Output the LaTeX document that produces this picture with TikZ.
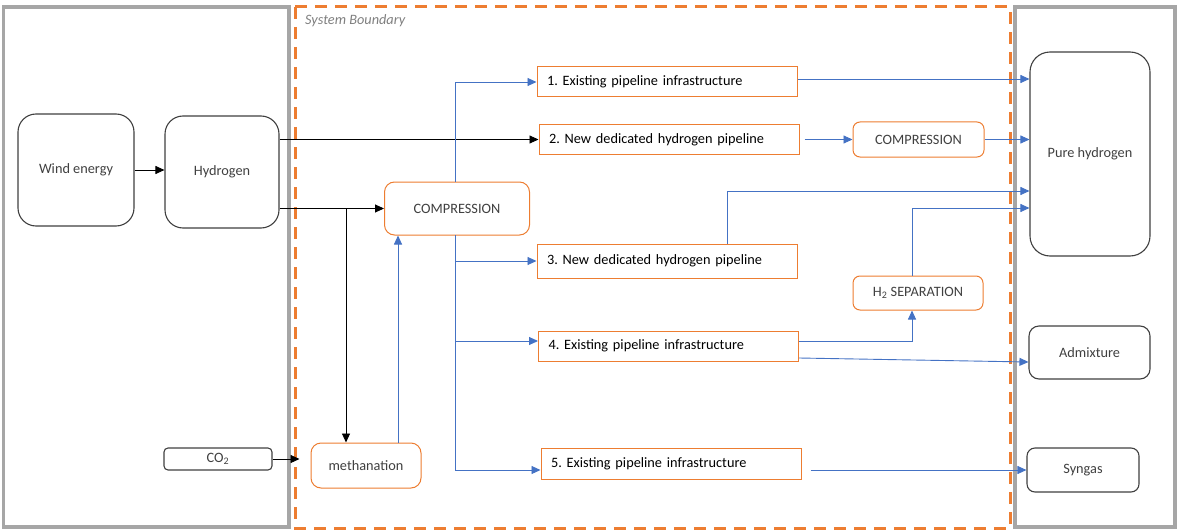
\documentclass[tikz,border=0pt]{standalone}
\usepackage{fontspec}
\setmainfont{Carlito}
\usetikzlibrary{arrows.meta}
\definecolor{orng}{HTML}{ED7D31}
\definecolor{blu}{HTML}{4472C4}
\definecolor{bnd}{HTML}{A6A6A6}
\definecolor{ink}{HTML}{404040}
\definecolor{capt}{HTML}{7F7F7F}
\frenchspacing

\begin{document}
\begin{tikzpicture}
[every node/.style={inner sep=0pt, font=\fontsize{14.3}{17}\selectfont},
 endbox/.style={rectangle, draw=ink, line width=1.1pt, text=ink, fill=white},
 procbox/.style={rectangle, draw=orng, line width=1pt, text=ink, fill=white},
 pipebox/.style={rectangle, draw=orng, line width=1pt, inner xsep=10pt, text width=240pt, align=left, fill=white},
 blkflow/.style={line width=0.9pt, black, -{Triangle[length=9pt,width=8pt]}},
 bluflow/.style={line width=0.9pt, blu, -{Triangle[length=9pt,width=8pt]}}]
\useasboundingbox (0pt, 0pt) rectangle (1177pt, -532pt);
% boundaries
\draw [line width=3.5pt, color=bnd] (3.5pt, -7pt) rectangle (289pt, -527pt);
\draw [line width=3.5pt, color=bnd] (1015pt, -7pt) rectangle (1175pt, -527pt);
\draw [line width=3pt, color=orng, dash pattern=on 12pt off 8pt] (295pt, -7pt) rectangle (1010pt, -528pt);
\node (sysb) [anchor=west, text=capt, font=\fontsize{14.3}{17}\selectfont\itshape] at (305pt, -21pt) {System Boundary};
% sources
\node (wind) [endbox, rounded corners=18pt, minimum width=116pt, minimum height=112pt] at (76pt, -170pt) {Wind energy};
\node (hydrogen) [endbox, rounded corners=18pt, minimum width=114pt, minimum height=112pt] at (222pt, -172pt) {Hydrogen};
\node (co2) [endbox, rounded corners=4pt, minimum width=108pt, minimum height=22pt] at (218pt, -459pt) {CO\textsubscript{2}};
% processes
\node (comp) [procbox, rounded corners=10pt, minimum width=145pt, minimum height=53pt] at (457pt, -208.5pt) {COMPRESSION};
\node (meth) [procbox, rounded corners=10pt, minimum width=110pt, minimum height=45pt] at (366pt, -465.5pt) {methanation};
\node (comp2) [procbox, rounded corners=7pt, minimum width=131pt, minimum height=35pt] at (918.5pt, -139.5pt) {COMPRESSION};
\node (h2sep) [procbox, rounded corners=7pt, minimum width=130pt, minimum height=34pt] at (918pt, -293pt) {H\textsubscript{2} SEPARATION};
% pipelines
\node (pipe1) [pipebox, minimum height=30pt] at (667pt, -82pt) {1. Existing pipeline infrastructure};
\node (pipe2) [pipebox, minimum height=29pt] at (669pt, -139.5pt) {2. New dedicated hydrogen pipeline};
\node (pipe3) [pipebox, minimum height=34pt] at (667pt, -261pt) {3. New dedicated hydrogen pipeline};
\node (pipe4) [pipebox, minimum height=30pt] at (668.5pt, -346pt) {4. Existing pipeline infrastructure};
\node (pipe5) [pipebox, minimum height=31pt] at (671pt, -463.5pt) {5. Existing pipeline infrastructure};
% end uses
\node (pure) [endbox, rounded corners=20pt, minimum width=120pt, minimum height=204pt] at (1090pt, -154pt) {Pure hydrogen};
\node (admix) [endbox, rounded corners=10pt, minimum width=121pt, minimum height=53pt] at (1089.5pt, -352.5pt) {Admixture};
\node (syngas) [endbox, rounded corners=8pt, minimum width=112pt, minimum height=44pt] at (1083pt, -470pt) {Syngas};
\coordinate (split) at (346pt, -208.5pt);
\coordinate (bus) at (455pt, -235pt);
% black flows
\draw [blkflow] (wind.east) -- (wind.east -| hydrogen.west);
\draw [blkflow] (hydrogen.east |- pipe2.west) -- (pipe2.west);
\draw [blkflow] (hydrogen.east |- comp.west) -- (comp.west);
\draw [blkflow] (split) -- (split |- meth.north);
\draw [blkflow, shorten >=11pt] (co2.east) -- (co2.east -| meth.west);
% blue flows
\draw [bluflow] ([xshift=32pt]meth.north) -- ([xshift=32pt]meth.north |- comp.south);
\draw [bluflow] ([xshift=-2pt]comp.north) |- (pipe1.west);
\draw [bluflow] (bus) |- ([yshift=-6.5pt]pipe5.west);
\draw [bluflow] (bus |- pipe3.west) -- (pipe3.west);
\draw [bluflow] (bus |- 0pt, -341pt) -- ([yshift=5pt]pipe4.west);
\draw [bluflow] ([yshift=3pt]pipe1.east) -- ([yshift=3pt]pipe1.east -| pure.west);
\draw [bluflow] ([xshift=5pt]pipe2.east) -- (comp2.west);
\draw [bluflow] (comp2.east) -- (comp2.east -| pure.west);
\draw [bluflow] ([xshift=60pt]pipe3.north) |- ([yshift=-37pt]pure.west);
\draw [bluflow] ([xshift=-6pt]h2sep.north) |- ([yshift=-54pt]pure.west);
\draw [bluflow] ([yshift=5pt]pipe4.east) -| ([xshift=-6pt]h2sep.south);
\draw [bluflow] ([yshift=-12pt]pipe4.east) -- ([yshift=-9.5pt]admix.west);
\draw [bluflow] ([xshift=9pt, yshift=-6.5pt]pipe5.east) -- (syngas.west);
\end{tikzpicture}
\end{document}
